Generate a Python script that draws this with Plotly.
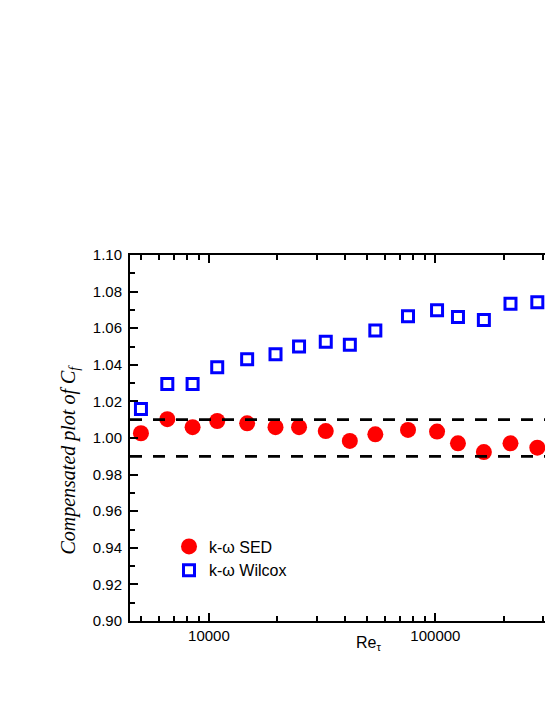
import numpy as np
import plotly.graph_objects as go

# Re_tau values
re_tau = [5010, 6550, 8470, 10880, 14750, 19680, 25000, 32800, 41900,
          54300, 75700, 101700, 125800, 163700, 214600, 281900]

# compensated Cf, k-omega SED
cf_sed = [1.0026, 1.0103, 1.0059, 1.0093, 1.0080, 1.0059, 1.0059, 1.0038,
          0.9984, 1.0020, 1.0044, 1.0035, 0.9971, 0.9923, 0.9971, 0.9947]

# compensated Cf, k-omega Wilcox
cf_wilcox = [1.0158, 1.0295, 1.0295, 1.0386, 1.0430, 1.0458, 1.0500, 1.0526,
             1.0509, 1.0588, 1.0665, 1.0698, 1.0661, 1.0645, 1.0733, 1.0742]

band = [0.99, 1.01]

x_major = [10000, 100000]
x_minor = [5000, 6000, 7000, 8000, 9000, 20000, 30000, 40000, 50000,
           60000, 70000, 80000, 90000, 200000, 300000]

SANS = "Liberation Sans, Arial, sans-serif"
SERIF = "Liberation Serif, Times New Roman, serif"

fig = go.Figure()

fig.add_trace(
    go.Scatter(
        x=re_tau,
        y=cf_sed,
        mode="markers",
        name="k-ω SED",
        marker=dict(symbol="circle", size=16, color="#FF0000", line=dict(width=0)),
    )
)
fig.add_trace(
    go.Scatter(
        x=re_tau,
        y=cf_wilcox,
        mode="markers",
        name="k-ω Wilcox",
        marker=dict(symbol="square-open", size=11, color="#0000FF", line=dict(width=3, color="#0000FF")),
    )
)

for yb in band:
    fig.add_hline(y=yb, line=dict(color="black", width=2.7, dash="12px,11px"))

# axis titles placed by hand, like the original
fig.add_annotation(
    text="Re<sub>τ</sub>",
    xref="paper",
    yref="paper",
    x=0.574,
    y=-0.092,
    showarrow=False,
    font=dict(family=SANS, size=16, color="black"),
)
fig.add_annotation(
    text="<i>Compensated plot of C<sub>f</sub></i>",
    xref="paper",
    yref="paper",
    x=-0.181,
    y=0.442,
    textangle=-90,
    showarrow=False,
    font=dict(family=SERIF, size=20, color="black"),
)

fig.update_layout(
    width=545,
    height=705,
    margin=dict(l=130, r=0, t=255, b=84),
    paper_bgcolor="white",
    plot_bgcolor="white",
    showlegend=True,
    legend=dict(
        x=0.094,
        y=0.25,
        xanchor="left",
        yanchor="top",
        bgcolor="rgba(0,0,0,0)",
        font=dict(family=SANS, size=16, color="black"),
        tracegroupgap=0,
        itemwidth=30,
    ),
)

fig.update_xaxes(
    type="log",
    range=[np.log10(4482), 5.484],
    automargin=False,
    tickvals=x_major,
    ticktext=[str(v) for v in x_major],
    ticks="inside",
    ticklen=8,
    tickwidth=1.5,
    tickcolor="black",
    minor=dict(tickvals=x_minor, ticks="inside", ticklen=5, tickwidth=1.5, tickcolor="black"),
    showline=True,
    linecolor="black",
    linewidth=2,
    mirror="ticks",
    showgrid=False,
    zeroline=False,
    tickfont=dict(family=SANS, size=15, color="black"),
)

fig.update_yaxes(
    range=[0.90, 1.10],
    automargin=False,
    dtick=0.02,
    tickformat=".2f",
    ticks="inside",
    ticklen=8,
    tickwidth=1.5,
    tickcolor="black",
    minor=dict(dtick=0.01, ticks="inside", ticklen=5, tickwidth=1.5, tickcolor="black"),
    showline=True,
    linecolor="black",
    linewidth=2,
    showgrid=False,
    zeroline=False,
    ticklabelstandoff=3,
    tickfont=dict(family=SANS, size=15, color="black"),
)

fig.write_html(
    "out.html",
    config={"displayModeBar": False},
    post_script="document.body.style.margin='0';",
)
